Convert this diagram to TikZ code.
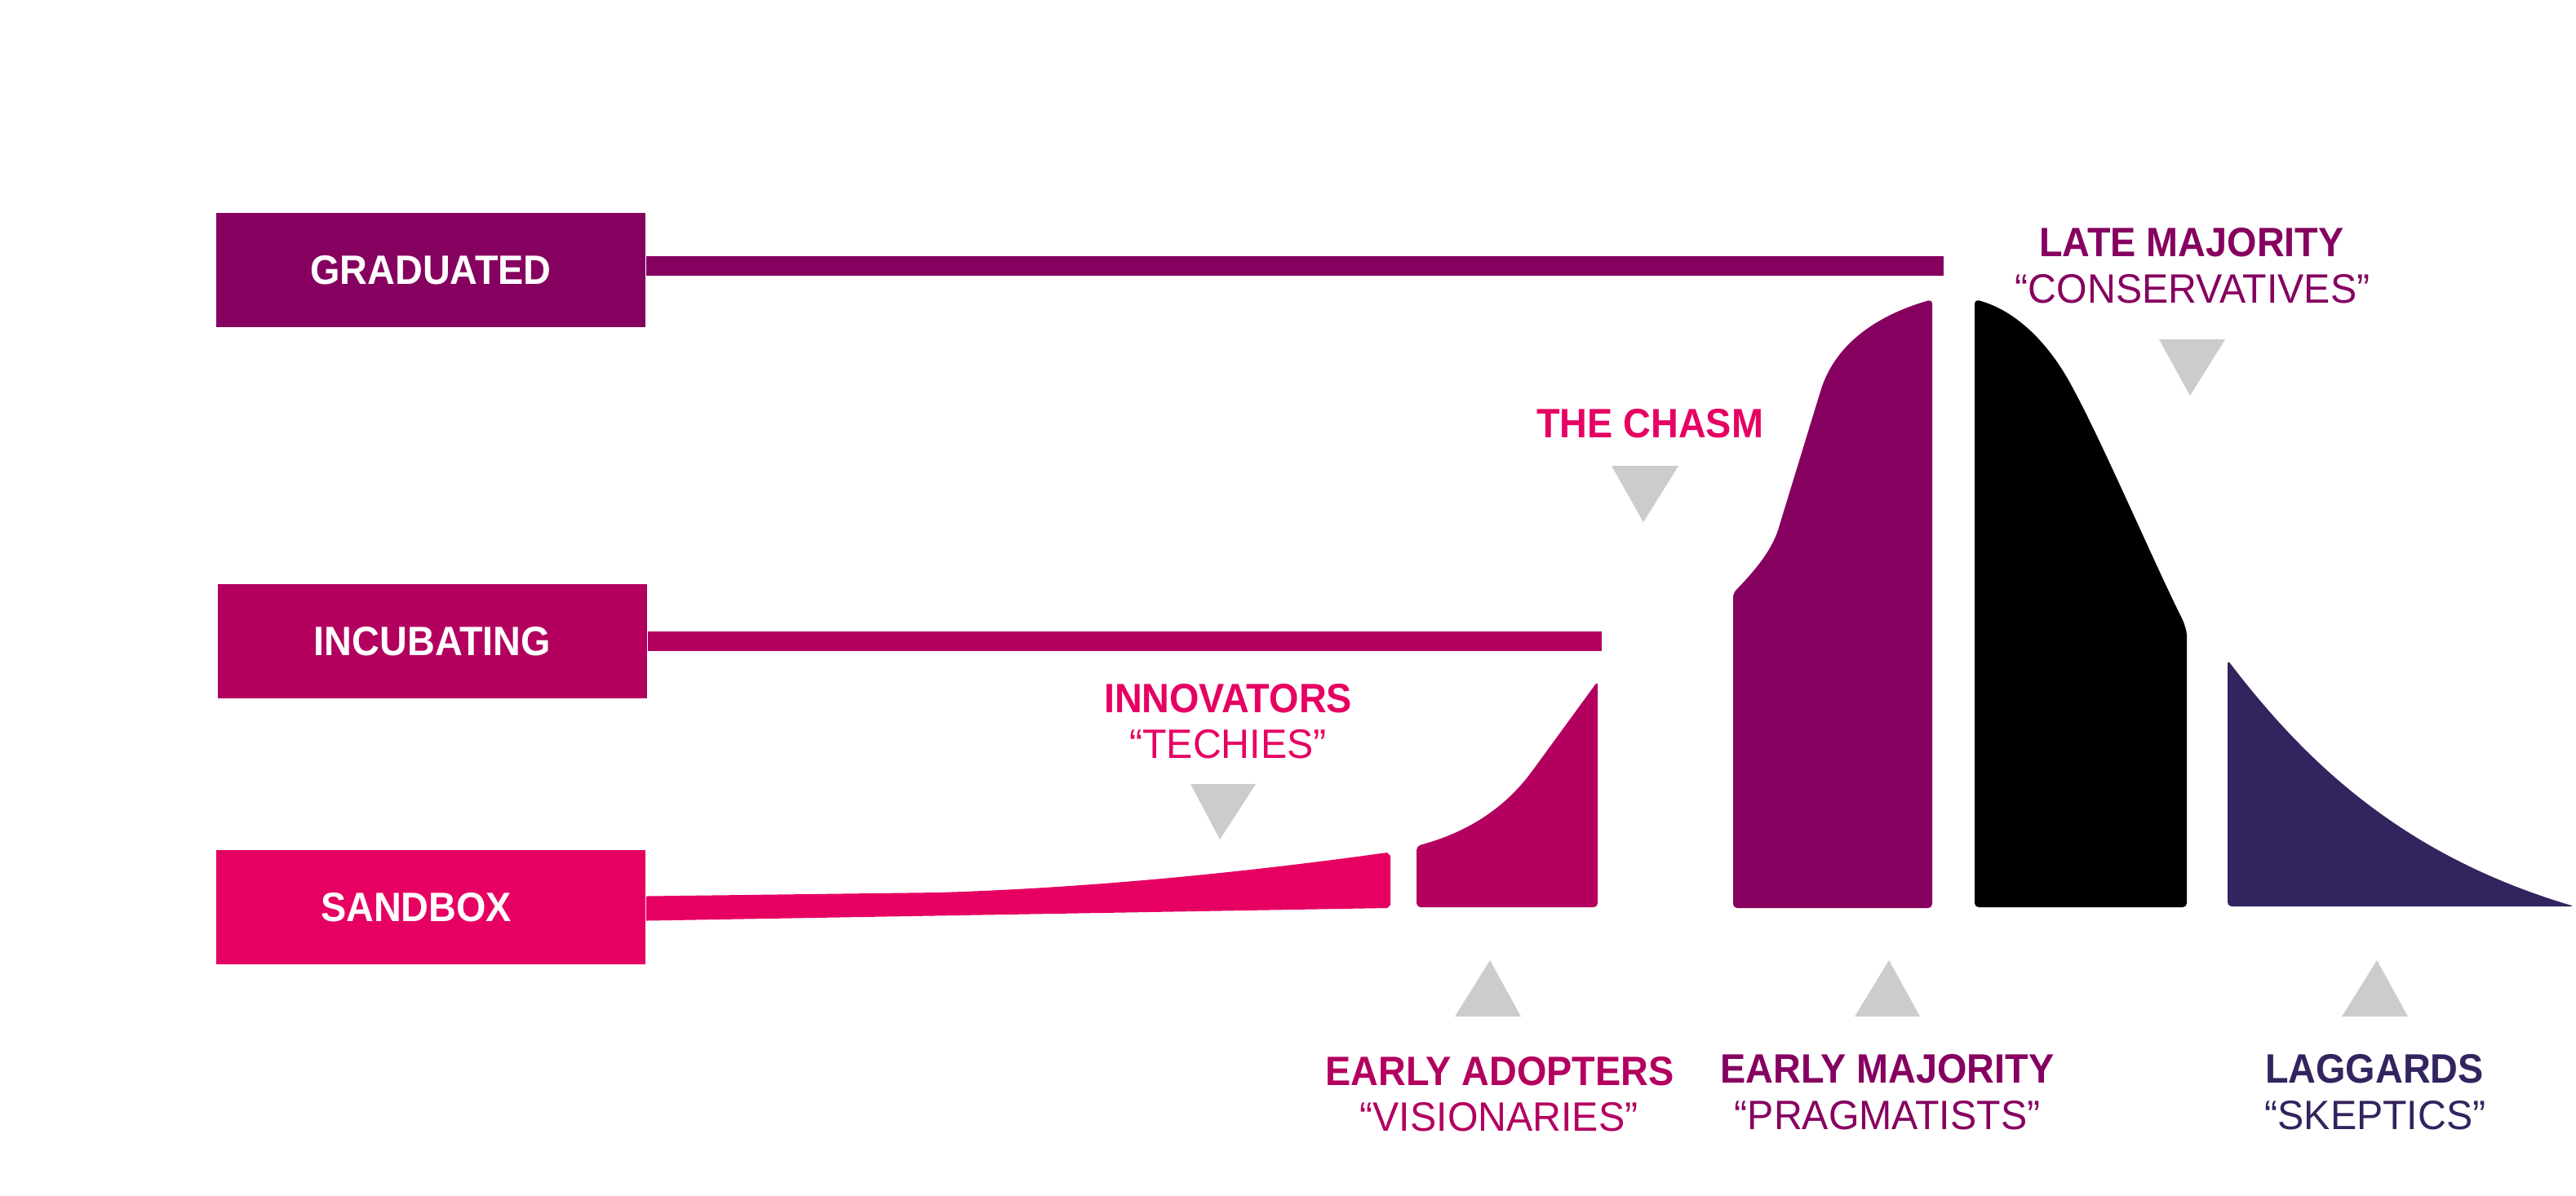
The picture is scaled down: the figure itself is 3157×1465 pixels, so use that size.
\documentclass[tikz,border=0pt]{standalone}
\usepackage{fontspec}
\setmainfont{Liberation Sans}[FakeStretch=0.96,BoldFeatures={FakeStretch=0.93}]
\usepackage{tikz}
\definecolor{gradcol}{RGB}{134,0,96}
\definecolor{incubcol}{RGB}{179,0,95}
\definecolor{sandcol}{RGB}{230,0,98}
\definecolor{lagcol}{RGB}{51,35,94}
\definecolor{pointgray}{RGB}{204,204,204}

\begin{document}
\begin{tikzpicture}[x=0.01cm, y=-0.01cm,
  stagebox/.style={rectangle, minimum width=5.26cm, minimum height=1.4cm, inner sep=0pt, text=white, font=\fontsize{14.3}{17}\selectfont\bfseries},
  grouptitle/.style={anchor=base, inner sep=0pt, font=\fontsize{14.3}{17}\selectfont\bfseries},
  groupnick/.style={anchor=base, inner sep=0pt, font=\fontsize{14.3}{17}\selectfont},
  pointer/.style={fill=pointgray}]
\useasboundingbox (0,0) rectangle (3157,1465);

\node[stagebox, fill=gradcol] (grad) at (528,331) {GRADUATED};
\node[stagebox, fill=incubcol] (incub) at (530,786) {INCUBATING};
\node[stagebox, fill=sandcol] (sand) at (528,1112) {SANDBOX\hspace*{0.36cm}};

\coordinate (gradend) at (2382,326);
\coordinate (incubend) at (1963,786);

\draw[gradcol, line width=2.4mm] (grad.east |- gradend) -- (gradend);
\draw[incubcol, line width=2.4mm] (incub.east) -- (incubend);
\fill[sandcol] ([yshift=1.35mm]sand.east) -- (1150,1094) .. controls (1350,1088) and (1550,1066) .. (1700,1045) -- (1704,1049) -- (1704,1109) -- (1700,1113) -- ([yshift=-1.65mm]sand.east) -- cycle;

% the curve
\fill[incubcol, rounded corners=0.5mm] (1736,1112) -- (1736,1037) .. controls (1780,1025) and (1835,1003) .. (1880,942) -- (1958,835) -- (1958,1112) -- cycle;
\fill[gradcol, rounded corners=0.5mm] (2124,1113) -- (2124,727) .. controls (2150,700) and (2172,675) .. (2182,640) -- (2230,483) .. controls (2248,425) and (2295,388) .. (2368,367) -- (2368,1113) -- cycle;
\fill[black, rounded corners=0.5mm] (2420,1112) -- (2420,367) .. controls (2470,380) and (2510,420) .. (2540,475) .. controls (2580,550) and (2640,690) .. (2676,762) -- (2680,775) -- (2680,1112) -- cycle;
\fill[lagcol, rounded corners=0.5mm] (2730,1111) -- (2730,809) .. controls (2830,940) and (2950,1050) .. (3155,1111) -- cycle;

% pointers
\fill[pointer] (1459,961) -- (1539,961) -- (1495,1029) -- cycle;
\fill[pointer] (1975,571) -- (2057,571) -- (2014,640) -- cycle;
\fill[pointer] (2646,416) -- (2727,416) -- (2684,485) -- cycle;
\fill[pointer] (1783,1246) -- (1864,1246) -- (1826,1177) -- cycle;
\fill[pointer] (2273,1246) -- (2353,1246) -- (2315,1177) -- cycle;
\fill[pointer] (2870,1246) -- (2951,1246) -- (2913,1177) -- cycle;

% labels
\node[grouptitle, text=sandcol] (innov) at (1505,873) {INNOVATORS};
\node[groupnick, text=sandcol] (techies) at (1505,929) {“TECHIES”};
\node[grouptitle, text=sandcol] (chasm) at (2022,536) {THE CHASM};
\node[grouptitle, text=gradcol] (late) at (2686,314) {LATE MAJORITY};
\node[groupnick, text=gradcol] (conserv) at (2687,371) {“CONSERVATIVES”};
\node[grouptitle, text=incubcol] (adopt) at (1838,1330) {EARLY ADOPTERS};
\node[groupnick, text=incubcol] (vision) at (1837,1386) {“VISIONARIES”};
\node[grouptitle, text=gradcol] (early) at (2313,1327) {EARLY MAJORITY};
\node[groupnick, text=gradcol] (pragma) at (2313,1384) {“PRAGMATISTS”};
\node[grouptitle, text=lagcol] (lagg) at (2910,1327) {LAGGARDS};
\node[groupnick, text=lagcol] (skept) at (2911,1384) {“SKEPTICS”};
\end{tikzpicture}
\end{document}
